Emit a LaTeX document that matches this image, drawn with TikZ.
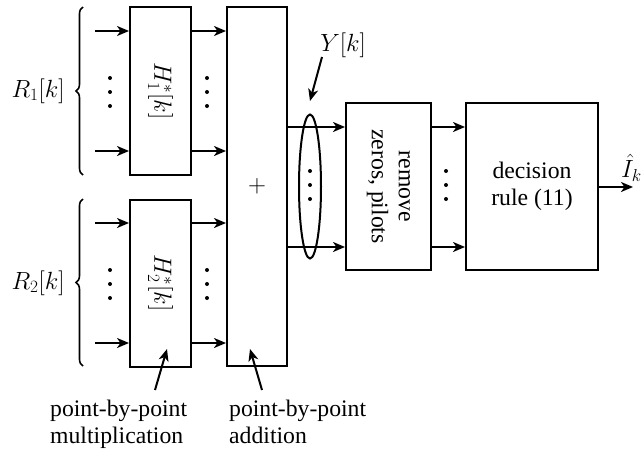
\documentclass[tikz,border=0pt]{standalone}
\usepackage{fontspec}
\setmainfont{Liberation Serif}
\usetikzlibrary{arrows.meta,decorations.pathreplacing}
\begin{document}
\begin{tikzpicture}[x=1pt,y=-1pt,
  every node/.style={font=\fontsize{23.7}{27}\selectfont},
  blk/.style={draw,line width=2pt,inner sep=0pt,minimum width=#1},
  arr/.style={line width=2pt,-{Stealth[length=12pt,width=10pt,inset=3.5pt]}},
  dotc/.style={fill=black}]
\useasboundingbox (0,0) rectangle (641,456);
% boxes
\node[blk=61pt,minimum height=168pt] (H1) at (160.5,91) {};
\node[rotate=-90] (H1t) at (H1.center) {$H_1^*[k]$};
\node[blk=61pt,minimum height=167pt] (H2) at (160.5,283) {};
\node[rotate=-90] (H2t) at (H2.center) {$H_2^*[k]$};
\node[blk=60pt,minimum height=359pt] (add) at (257,186.5) {};
\node (plus) at (add.center) {$+$};
\node[blk=85pt,minimum height=167pt] (rem) at (388.5,186.5) {};
\node[rotate=-90,align=center] (remt) at (rem.center) {remove\\zeros, pilots};
\node[blk=132pt,minimum height=167pt,align=center] (dec) at (532,186.5) {decision\\rule (11)};
% input arrows
\foreach \y/\n in {31/a,151/b,223/c,343/d}{
  \coordinate (in\n) at (95,\y);
}
\draw[arr] (ina) -- (ina -| H1.west);
\draw[arr] (inb) -- (inb -| H1.west);
\draw[arr] (inc) -- (inc -| H2.west);
\draw[arr] (ind) -- (ind -| H2.west);
% H -> adder
\draw[arr] (ina -| H1.east) -- (ina -| add.west);
\draw[arr] (inb -| H1.east) -- (inb -| add.west);
\draw[arr] (inc -| H2.east) -- (inc -| add.west);
\draw[arr] (ind -| H2.east) -- (ind -| add.west);
% adder -> remove
\coordinate (ya) at (0,127);
\coordinate (yb) at (0,247);
\draw[arr] (ya -| add.east) -- (ya -| rem.west);
\draw[arr] (yb -| add.east) -- (yb -| rem.west);
% remove -> decision
\draw[arr] (ya -| rem.east) -- (ya -| dec.west);
\draw[arr] (yb -| rem.east) -- (yb -| dec.west);
% output
\coordinate (outend) at (633,187);
\draw[arr] (outend -| dec.east) -- (outend);
\node[anchor=west,inner sep=0pt] (Ihat) at (621,168) {$\hat{I}_k$};
% ellipse
\draw[line width=2pt] (310,186.5) ellipse [x radius=11, y radius=72];
\node (Yk) at (343,45) {$Y[k]$};
\draw[arr] (322,57) -- (310,101);
% braces
\draw[line width=1.6pt,decorate,decoration={brace,amplitude=7pt}] (83,175) -- (83,7);
\draw[line width=1.6pt,decorate,decoration={brace,amplitude=7pt}] (83,366) -- (83,199);
\node[anchor=east] (R1) at (68,91) {$R_1[k]$};
\node[anchor=east] (R2) at (68,283) {$R_2[k]$};
% dots
\foreach \x/\yc in {110/92,207/92,110/284,207/284,310/185,446/185}{
  \foreach \d in {-14,0,14}{
    \fill (\x,\yc+\d) circle (2);
  }
}
% annotations
\node[align=left,anchor=north west,inner sep=0pt] (mult) at (50,400) {point-by-point\\multiplication};
\node[align=left,anchor=north west,inner sep=0pt] (addt) at (229,400) {point-by-point\\addition};
\draw[arr] (155,390) -- (167,349);
\draw[arr] (262,390) -- (250,349);
\end{tikzpicture}
\end{document}
